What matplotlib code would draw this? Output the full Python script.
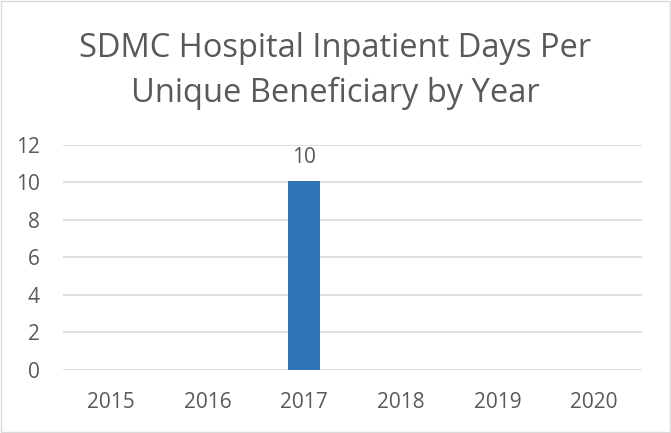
import matplotlib.pyplot as plt

years = ["2015", "2016", "2017", "2018", "2019", "2020"]
days_per_beneficiary = [0, 0, 10.05, 0, 0, 0]
bar_labels = ["", "", "10", "", "", ""]
y_ticks = [0, 2, 4, 6, 8, 10, 12]

plt.rcParams["font.family"] = ["Open Sans", "DejaVu Sans"]
grey = "#595959"

fig = plt.figure(figsize=(6.71, 4.33), dpi=100)
ax = fig.add_axes([0.094, 0.1455, 0.863, 0.52])

x = range(len(years))
bars = ax.bar(x, days_per_beneficiary, width=0.33, color="#2e75b6", zorder=3)
ax.bar_label(bars, labels=bar_labels, padding=10, fontsize=15, color=grey)

ax.set_xlim(-0.5, len(years) - 0.5)
ax.set_ylim(0, 12)
ax.set_yticks(y_ticks)
ax.set_xticks(list(x))
ax.set_xticklabels(years)
ax.grid(axis="y", color="#d9d9d9", linewidth=1.2, zorder=0)
ax.tick_params(length=0, labelsize=15, labelcolor=grey)
ax.tick_params(axis="y", pad=17)
ax.tick_params(axis="x", pad=16)
for s in ax.spines.values():
    s.set_visible(False)

fig.text(0.5, 0.836, "SDMC Hospital Inpatient Days Per\nUnique Beneficiary by Year",
         ha="center", va="center", fontsize=23.5, color=grey, linespacing=1.48)

# thin outer frame like the Excel chart area
fig.patches.append(plt.Rectangle((0.001, 0.003), 0.997, 0.995, transform=fig.transFigure,
                                 fill=False, edgecolor="#d9d9d9", linewidth=1))

fig.savefig("out.png", dpi=100)
